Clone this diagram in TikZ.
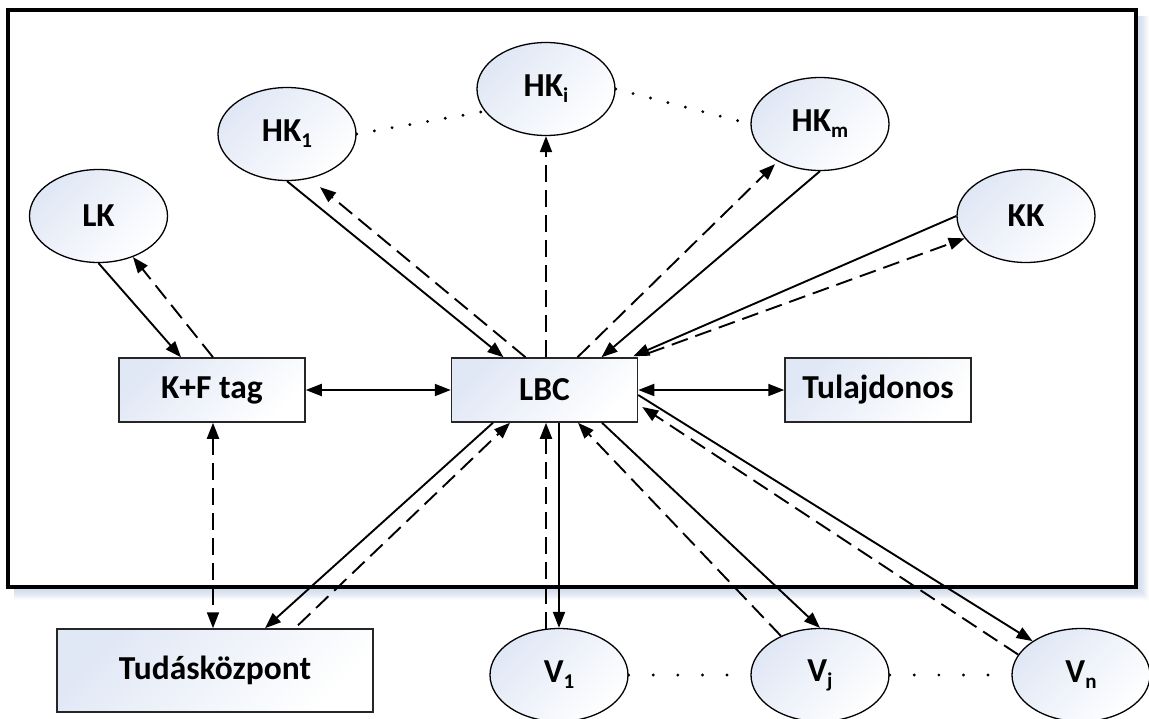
\documentclass[tikz,border=0pt]{standalone}
\usepackage{fontspec}
\setmainfont{Carlito}
\usetikzlibrary{arrows.meta,shapes.geometric,calc}
\definecolor{shadeblue}{RGB}{224,231,245}
\definecolor{frameshadow}{RGB}{200,214,234}
\newcommand\mysub[1]{\raisebox{-6pt}{\fontsize{21}{21}\selectfont #1}}
\begin{document}
\begin{tikzpicture}[x=1pt,y=-1pt,
 txt/.style={font=\fontsize{33.5}{40}\selectfont\bfseries},
 ell/.style={ellipse, draw=black, line width=1.3pt, minimum width=138pt, minimum height=93pt, inner sep=0pt, top color=shadeblue, bottom color=white, shading angle=45, txt},
 boxn/.style={rectangle, draw=black!85, line width=1.5pt, inner sep=0pt, minimum width=186pt, minimum height=64pt, top color=shadeblue, bottom color=white, shading angle=45, txt},
 conn/.style={line width=1.9pt, -{Triangle[length=16pt,width=12pt]}},
 dconn/.style={conn, dash pattern=on 17pt off 8pt},
 both/.style={line width=1.9pt, {Triangle[length=16pt,width=12pt]}-{Triangle[length=16pt,width=12pt]}},
 dots/.style={line width=3.2pt, line cap=round, dash pattern=on 0pt off 24.6pt}
]
\useasboundingbox (0,0) rectangle (1149,718);
\fill[white] (0,0) rectangle (1149,718);
% frame shadow
\foreach \i in {2,...,12}{
  \pgfmathsetmacro\op{0.7*(1-\i/13)}
  \draw[frameshadow, line width=1.2pt, opacity=\op] (14,587+\i) -- (1136+\i,587+\i) -- (1136+\i,16);
}
\draw[line width=3.5pt] (8,10) rectangle (1136,587);

% nodes
\node[ell] (LK) at (98.5,216) {LK};
\node[ell] (HK1) at (287,134) {HK\mysub{1}};
\node[ell] (HKi) at (546,89) {HK\mysub{i}};
\node[ell] (HKm) at (820,124) {HK\mysub{m}};
\node[ell] (KK) at (1026,216) {KK};
\node[boxn] (KF) at (212,390) {K+F tag};
\node[boxn] (LBC) at (544.5,390) {LBC};
\node[boxn] (Tul) at (878,390) {Tulajdonos};
\node[boxn, minimum width=316pt, minimum height=83pt] (Tud) at (215,670.5) {Tudásközpont};
\node[ell] (V1) at (559,675) {V\mysub{1}};
\node[ell] (Vj) at (820,675) {V\mysub{j}};
\node[ell] (Vn) at (1081,675) {V\mysub{n}};

% connectors
\draw[conn] (LK.south) -- ([shift={(-31,0)}]KF.north);
\draw[dconn] ([shift={(1,0)}]KF.north) -- (LK.-50);
\draw[conn] (HK1.south) -- ([shift={(-41,0)}]LBC.north);
\draw[dconn] ([shift={(-19,0)}]LBC.north) -- ([shift={(33,6)}]HK1.south);
\draw[dconn] ([shift={(1.5,0)}]LBC.north) -- (HKi.south);
\draw[conn] (HKm.south) -- ([shift={(57,0)}]LBC.north);
\draw[dconn] ([shift={(33,0)}]LBC.north) -- ([shift={(-45,-7)}]HKm.south);
\draw[conn] (KK.west) -- ([shift={(-5,-1)}]LBC.north east);
\draw[dconn] ([shift={(10,-4)}]LBC.north east) -- (KK.200);
\draw[both] (KF.east) -- (LBC.west);
\draw[both] (LBC.east) -- (Tul.west);
\draw[both, dash pattern=on 17pt off 8pt] ([shift={(1,0)}]KF.south) -- ([shift={(-2,0)}]Tud.north);
\draw[conn] ([shift={(-51.5,0)}]LBC.south) -- ([shift={(50,0)}]Tud.north);
\draw[dconn] ([shift={(83,-3)}]Tud.north) -- ([shift={(-34.5,0)}]LBC.south);
\draw[dconn] ([shift={(-13,1)}]V1.north) -- ([shift={(1.5,0)}]LBC.south);
\draw[conn] ([shift={(14.5,0)}]LBC.south) -- (V1.north);
\draw[conn] ([shift={(57.5,0)}]LBC.south) -- (Vj.north);
\draw[dconn] (Vj.135) -- ([shift={(33.5,0)}]LBC.south);
\draw[conn] ([shift={(0,5)}]LBC.east) -- (Vn.145);
\draw[dconn] (Vn.162) -- ([shift={(4,17)}]LBC.east);

% dotted links
\draw[dots, dash pattern=on 0pt off 18pt] (HK1.east) -- (HKi.200);
\draw[dots, dash pattern=on 0pt off 18pt] (HKi.east) -- (HKm.west);
\draw[dots] (V1.east) -- (Vj.west);
\draw[dots] (Vj.east) -- (Vn.west);
\end{tikzpicture}
\end{document}
